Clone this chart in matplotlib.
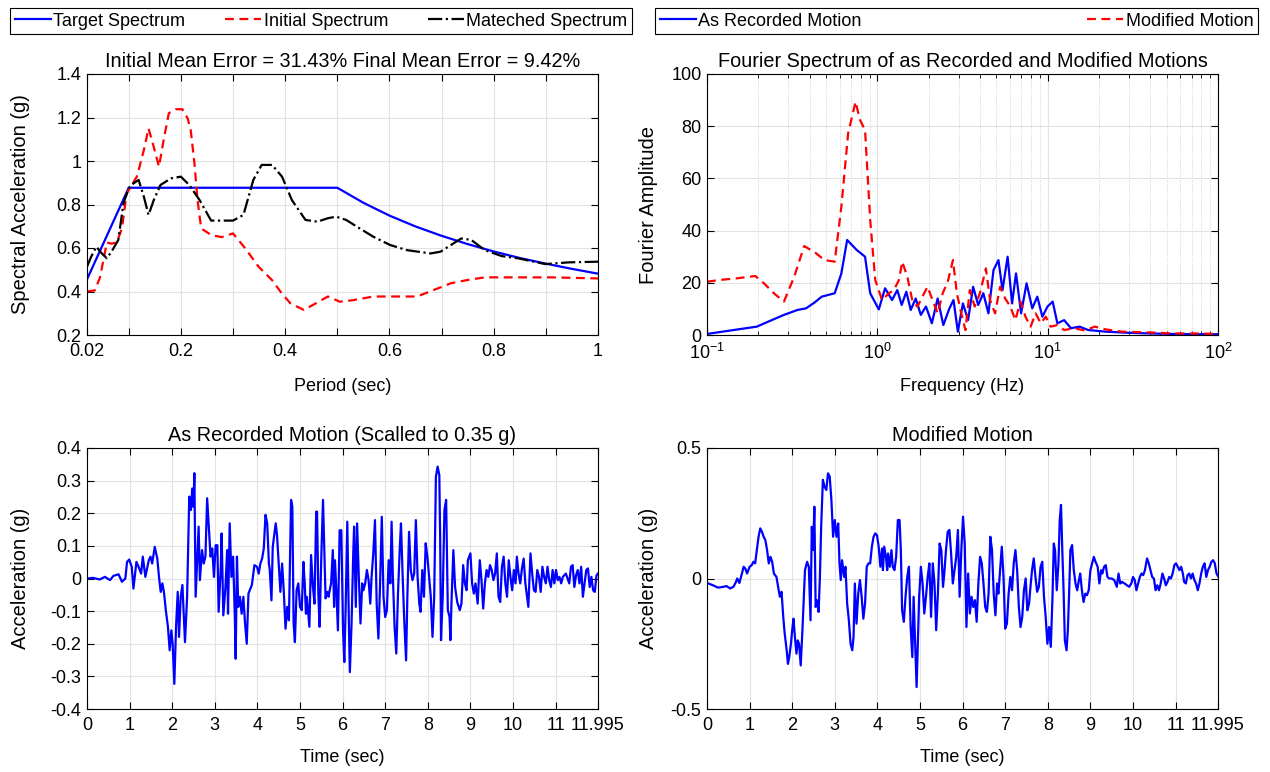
import matplotlib
matplotlib.use("Agg")
import matplotlib.pyplot as plt
import numpy as np
from matplotlib.ticker import LogLocator, NullFormatter

plt.rcParams['font.family'] = ['Liberation Sans', 'DejaVu Sans']
plt.rcParams['font.size'] = 13
plt.rcParams['mathtext.fontset'] = 'custom'
plt.rcParams['mathtext.rm'] = 'Liberation Sans'
plt.rcParams['axes.linewidth'] = 0.8

# ---- response spectra (period in sec, Sa in g) ----
target_period = [0.02, 0.10, 0.50, 0.55, 0.60, 0.65, 0.70, 0.75, 0.80, 0.85, 0.90, 0.95, 1.00]
target_sa = [0.456, 0.877, 0.877, 0.808, 0.749, 0.699, 0.656, 0.618, 0.584, 0.554, 0.528, 0.504, 0.482]

initial_period = [0.020, 0.035, 0.045, 0.058, 0.067, 0.077, 0.087, 0.096, 0.116, 0.129, 0.138,
                  0.148, 0.158, 0.168, 0.177, 0.190, 0.203, 0.213, 0.219, 0.226, 0.232, 0.239,
                  0.258, 0.278, 0.300, 0.323, 0.349, 0.375, 0.394, 0.410, 0.436, 0.459, 0.482,
                  0.505, 0.530, 0.569, 0.601, 0.653, 0.685, 0.718, 0.750, 0.783, 0.815, 0.848,
                  0.912, 1.000]
initial_sa = [0.400, 0.405, 0.465, 0.625, 0.620, 0.625, 0.690, 0.850, 0.930, 1.050, 1.150,
              1.065, 0.974, 1.110, 1.220, 1.238, 1.238, 1.196, 1.140, 0.990, 0.820, 0.690,
              0.660, 0.650, 0.667, 0.600, 0.514, 0.452, 0.390, 0.346, 0.315, 0.346, 0.377,
              0.353, 0.360, 0.377, 0.377, 0.377, 0.407, 0.438, 0.453, 0.465, 0.465, 0.465,
              0.465, 0.460]

matched_period = [0.020, 0.028, 0.038, 0.048, 0.058, 0.067, 0.080, 0.090, 0.100, 0.109, 0.119,
                  0.129, 0.138, 0.148, 0.161, 0.181, 0.200, 0.216, 0.236, 0.258, 0.278, 0.300,
                  0.320, 0.339, 0.355, 0.375, 0.394, 0.413, 0.439, 0.462, 0.482, 0.498, 0.517,
                  0.543, 0.569, 0.601, 0.634, 0.679, 0.698, 0.718, 0.738, 0.757, 0.783, 0.815,
                  0.848, 0.899, 0.944, 1.000]
matched_sa = [0.514, 0.560, 0.606, 0.576, 0.553, 0.583, 0.637, 0.806, 0.875, 0.897, 0.913,
              0.836, 0.752, 0.820, 0.890, 0.920, 0.928, 0.890, 0.820, 0.726, 0.726, 0.726,
              0.752, 0.913, 0.982, 0.982, 0.928, 0.820, 0.729, 0.721, 0.737, 0.744, 0.729,
              0.690, 0.652, 0.614, 0.590, 0.575, 0.583, 0.614, 0.644, 0.637, 0.590, 0.563,
              0.552, 0.526, 0.534, 0.537]

# ---- Fourier amplitude spectra (Hz) ----
freq_rec = [0.100, 0.143, 0.196, 0.236, 0.283, 0.340, 0.381, 0.427, 0.472, 0.562, 0.615, 0.665,
            0.756, 0.847, 0.908, 1.02, 1.11, 1.22, 1.31, 1.39, 1.48, 1.57, 1.68, 1.80, 1.93,
            2.09, 2.26, 2.44, 2.65, 2.80, 2.97, 3.18, 3.41, 3.65, 3.91, 4.19, 4.49, 4.81, 5.14,
            5.43, 5.82, 6.18, 6.52, 6.98, 7.52, 8.12, 8.69, 9.31, 9.98, 10.7, 11.4, 12.5, 13.7,
            15.4, 17.3, 21.7, 28.5, 39.3, 54.0, 74.3, 100.0]
amp_rec = [0.4, 1.9, 3.2, 5.5, 7.7, 9.6, 10.2, 12.4, 14.7, 16.0, 23.6, 36.4,
           32.6, 30.0, 16.0, 9.8, 17.9, 13.4, 17.2, 11.5, 16.6, 9.6, 14.0, 7.7, 10.9,
           4.5, 14.0, 3.8, 10.2, 13.4, 1.3, 12.1, 5.7, 18.5, 11.5, 16.0, 8.3, 24.9, 28.7,
           17.2, 30.0, 12.1, 23.6, 8.3, 19.8, 10.2, 14.7, 7.0, 10.9, 12.8, 4.5, 5.7, 2.6,
           3.2, 1.9, 1.3, 0.9, 0.6, 0.4, 0.3, 0.3]

freq_mod = [0.100, 0.119, 0.149, 0.192, 0.216, 0.247, 0.283, 0.325, 0.372, 0.437, 0.489, 0.562,
            0.615, 0.674, 0.745, 0.791, 0.847, 0.908, 0.972, 1.065, 1.17, 1.25, 1.34, 1.40,
            1.50, 1.61, 1.72, 1.84, 1.97, 2.11, 2.26, 2.42, 2.59, 2.78, 2.93, 3.11, 3.29, 3.49,
            3.73, 4.00, 4.34, 4.59, 4.91, 5.26, 5.63, 6.04, 6.46, 6.92, 7.41, 7.94, 8.50, 9.10,
            9.75, 10.4, 11.4, 12.5, 14.4, 16.5, 18.9, 21.7, 27.2, 34.2, 43.0, 54.0, 74.3, 100.0]
amp_mod = [20.4, 21.1, 21.7, 22.6, 19.8, 16.0, 12.8, 22.3, 34.1, 31.3, 28.7, 28.1,
           49.2, 77.3, 89.4, 82.4, 78.5, 44.1, 21.1, 13.4, 16.0, 17.2, 21.1, 28.1,
           22.3, 12.8, 10.9, 14.7, 18.5, 13.4, 8.3, 16.0, 20.4, 28.7, 16.0, 8.3, 1.9, 17.2,
           10.9, 16.0, 25.5, 13.4, 8.3, 18.5, 14.0, 10.9, 5.7, 12.8, 7.0, 3.2, 8.3, 4.5,
           7.0, 3.2, 3.8, 1.9, 2.6, 1.7, 3.2, 2.2, 1.3, 1.1, 0.9, 0.6, 0.6, 0.4]

# ---- acceleration time histories: (time sec, acc g) ----
recorded_motion = [
    (0.00, 0.000), (0.14, 0.002), (0.30, -0.003), (0.42, 0.005), (0.54, -0.005), (0.62, 0.008),
    (0.74, 0.013), (0.82, -0.010), (0.90, 0.000), (0.94, 0.051), (0.99, 0.058), (1.05, 0.036),
    (1.09, -0.031), (1.16, 0.051), (1.21, 0.036), (1.27, 0.015), (1.31, 0.067), (1.37, 0.005),
    (1.45, 0.056), (1.49, 0.067), (1.53, 0.046), (1.59, 0.097), (1.65, 0.061), (1.69, 0.005),
    (1.73, -0.041), (1.77, -0.015), (1.81, -0.046), (1.85, -0.097), (1.90, -0.148), (1.94, -0.220),
    (1.98, -0.159), (2.01, -0.200), (2.05, -0.323), (2.09, -0.148), (2.13, -0.041), (2.16, -0.179),
    (2.20, -0.056), (2.24, -0.020), (2.30, -0.195), (2.35, -0.056), (2.40, 0.251), (2.44, 0.210),
    (2.47, 0.276), (2.50, 0.220), (2.52, 0.323), (2.55, -0.056), (2.59, 0.067), (2.62, 0.159),
    (2.65, -0.005), (2.70, 0.087), (2.74, 0.046), (2.78, 0.067), (2.82, 0.246), (2.86, 0.159),
    (2.90, 0.067), (2.94, 0.092), (2.98, 0.005), (3.02, 0.102), (3.06, 0.102), (3.09, -0.102),
    (3.14, 0.036), (3.16, 0.138), (3.20, -0.113), (3.25, -0.026), (3.29, 0.087), (3.31, -0.108),
    (3.35, 0.169), (3.39, 0.005), (3.43, 0.067), (3.47, -0.118), (3.49, -0.246), (3.52, 0.067),
    (3.55, -0.087), (3.59, -0.056), (3.63, -0.108), (3.67, -0.056), (3.71, -0.138), (3.75, -0.200),
    (3.79, -0.046), (3.87, -0.020), (3.93, 0.041), (3.99, 0.036), (4.03, 0.015), (4.07, 0.046),
    (4.11, 0.061), (4.15, 0.092), (4.19, 0.195), (4.23, 0.169), (4.27, 0.046), (4.29, 0.026),
    (4.33, -0.067), (4.36, 0.097), (4.40, 0.138), (4.43, 0.169), (4.46, 0.133), (4.50, 0.046),
    (4.54, -0.041), (4.58, 0.046), (4.62, -0.041), (4.66, -0.154), (4.70, -0.087), (4.74, -0.128),
    (4.79, 0.241), (4.82, 0.220), (4.85, -0.138), (4.88, -0.195), (4.92, -0.036), (4.96, -0.015),
    (5.00, -0.087), (5.04, -0.097), (5.08, 0.051), (5.11, -0.015), (5.14, -0.108), (5.16, -0.056),
    (5.22, -0.148), (5.26, 0.072), (5.30, -0.020), (5.34, -0.077), (5.38, 0.205), (5.40, 0.205),
    (5.43, -0.046), (5.46, -0.148), (5.50, 0.067), (5.54, 0.241), (5.56, 0.138), (5.60, -0.061),
    (5.64, -0.041), (5.67, -0.056), (5.69, -0.041), (5.73, -0.015), (5.77, 0.087), (5.80, -0.087),
    (5.82, 0.056), (5.85, -0.026), (5.89, -0.159), (5.93, 0.148), (5.97, 0.148), (6.01, -0.159),
    (6.04, -0.256), (6.07, -0.097), (6.11, 0.174), (6.15, -0.159), (6.17, -0.287), (6.21, -0.138),
    (6.25, 0.077), (6.27, 0.159), (6.31, -0.087), (6.34, 0.169), (6.38, 0.005), (6.42, -0.138),
    (6.46, -0.015), (6.49, -0.036), (6.53, -0.015), (6.57, 0.026), (6.61, -0.005), (6.65, -0.077),
    (6.68, 0.005), (6.72, 0.077), (6.76, 0.179), (6.80, -0.077), (6.84, -0.184), (6.88, -0.015),
    (6.92, 0.189), (6.96, -0.056), (7.00, -0.118), (7.04, -0.097), (7.08, 0.056), (7.12, -0.015),
    (7.15, 0.174), (7.18, 0.005), (7.22, -0.148), (7.26, -0.230), (7.30, -0.046), (7.34, 0.087),
    (7.37, 0.169), (7.41, 0.005), (7.45, -0.138), (7.49, -0.251), (7.52, -0.056), (7.56, 0.143),
    (7.60, 0.026), (7.64, -0.005), (7.68, 0.015), (7.72, 0.179), (7.76, 0.005), (7.80, -0.077),
    (7.83, -0.102), (7.87, 0.026), (7.91, -0.056), (7.95, 0.108), (7.99, 0.067), (8.03, 0.005),
    (8.07, -0.056), (8.11, -0.179), (8.15, -0.056), (8.19, 0.312), (8.23, 0.343), (8.27, 0.317),
    (8.29, 0.128), (8.31, -0.189), (8.35, -0.056), (8.39, 0.210), (8.43, 0.241), (8.47, -0.097),
    (8.51, -0.118), (8.53, -0.189), (8.56, -0.056), (8.60, 0.087), (8.64, -0.026), (8.69, -0.072),
    (8.75, -0.097), (8.79, -0.077), (8.83, 0.041), (8.87, -0.015), (8.91, -0.036), (8.94, 0.056),
    (9.00, 0.077), (9.04, -0.015), (9.08, -0.046), (9.12, -0.015), (9.17, -0.077), (9.22, 0.056),
    (9.26, -0.005), (9.30, -0.092), (9.34, -0.015), (9.38, 0.026), (9.42, 0.005), (9.46, 0.041),
    (9.50, 0.026), (9.54, -0.005), (9.58, 0.015), (9.62, 0.077), (9.66, -0.056), (9.70, -0.072),
    (9.74, 0.036), (9.78, 0.067), (9.82, -0.015), (9.86, -0.056), (9.90, 0.056), (9.94, 0.005),
    (9.98, -0.036), (10.02, 0.026), (10.06, -0.015), (10.09, 0.067), (10.13, 0.015), (10.17, -0.015),
    (10.21, 0.031), (10.25, 0.061), (10.29, -0.015), (10.36, -0.087), (10.41, 0.077), (10.45, 0.015),
    (10.49, -0.036), (10.53, -0.041), (10.57, 0.026), (10.61, 0.005), (10.65, -0.041), (10.69, 0.036),
    (10.73, 0.005), (10.77, -0.015), (10.81, 0.036), (10.85, -0.005), (10.89, -0.026), (10.93, 0.026),
    (10.97, -0.015), (11.01, 0.026), (11.05, -0.005), (11.09, 0.005), (11.13, -0.015), (11.17, 0.005),
    (11.24, 0.015), (11.32, -0.015), (11.36, 0.036), (11.40, 0.041), (11.44, -0.026), (11.48, 0.010),
    (11.52, 0.026), (11.56, -0.015), (11.60, 0.036), (11.64, -0.056), (11.68, -0.015), (11.72, 0.026),
    (11.76, 0.031), (11.80, -0.026), (11.84, 0.005), (11.88, -0.036), (11.92, -0.041), (11.96, 0.010),
    (11.995, 0.015),
]

modified_motion = [
    (0.00, -0.017), (0.14, -0.026), (0.26, -0.035), (0.38, -0.032), (0.46, -0.029), (0.54, -0.038),
    (0.62, -0.032), (0.68, -0.013), (0.71, 0.000), (0.76, -0.017), (0.82, 0.019), (0.86, 0.045),
    (0.90, 0.038), (0.94, 0.019), (1.00, 0.045), (1.05, 0.051), (1.09, 0.064), (1.13, 0.058),
    (1.17, 0.109), (1.21, 0.160), (1.25, 0.192), (1.29, 0.179), (1.33, 0.160), (1.37, 0.147),
    (1.41, 0.109), (1.45, 0.058), (1.49, 0.083), (1.53, 0.064), (1.57, 0.019), (1.63, 0.006),
    (1.67, -0.032), (1.71, -0.070), (1.75, -0.051), (1.79, -0.147), (1.82, -0.205), (1.87, -0.275),
    (1.90, -0.327), (1.93, -0.301), (1.97, -0.250), (2.00, -0.198), (2.03, -0.154), (2.07, -0.237),
    (2.10, -0.288), (2.13, -0.237), (2.16, -0.250), (2.20, -0.333), (2.24, -0.198), (2.30, 0.032),
    (2.35, 0.064), (2.39, 0.045), (2.43, -0.160), (2.46, 0.198), (2.49, 0.109), (2.52, 0.275),
    (2.55, -0.109), (2.58, -0.083), (2.62, -0.128), (2.65, 0.006), (2.68, 0.198), (2.72, 0.378),
    (2.76, 0.352), (2.80, 0.339), (2.84, 0.403), (2.88, 0.391), (2.92, 0.301), (2.96, 0.160),
    (3.00, 0.224), (3.04, 0.160), (3.08, 0.211), (3.11, 0.058), (3.14, -0.006), (3.17, 0.070),
    (3.22, 0.006), (3.25, 0.045), (3.29, -0.096), (3.33, -0.160), (3.37, -0.250), (3.41, -0.275),
    (3.44, -0.224), (3.47, -0.019), (3.51, -0.173), (3.55, -0.058), (3.59, -0.006), (3.63, -0.070),
    (3.67, -0.154), (3.71, -0.096), (3.75, 0.045), (3.79, 0.058), (3.83, 0.058), (3.87, 0.122),
    (3.91, 0.160), (3.95, 0.173), (3.99, 0.166), (4.03, 0.122), (4.07, 0.045), (4.11, 0.115),
    (4.13, 0.032), (4.16, 0.122), (4.20, 0.083), (4.23, 0.032), (4.25, 0.096), (4.29, 0.045),
    (4.33, 0.109), (4.36, 0.045), (4.40, 0.032), (4.44, 0.083), (4.48, 0.224), (4.52, 0.224),
    (4.55, 0.109), (4.58, -0.122), (4.62, -0.166), (4.66, -0.070), (4.70, 0.006), (4.74, 0.045),
    (4.78, -0.186), (4.82, -0.301), (4.85, -0.070), (4.88, -0.224), (4.92, -0.416), (4.95, -0.250),
    (4.98, -0.070), (5.02, 0.045), (5.06, -0.019), (5.10, -0.134), (5.14, -0.070), (5.18, 0.006),
    (5.22, 0.058), (5.26, -0.147), (5.30, 0.058), (5.34, -0.019), (5.38, -0.198), (5.42, -0.058),
    (5.46, 0.134), (5.50, 0.109), (5.54, -0.032), (5.57, 0.019), (5.61, 0.109), (5.65, 0.179),
    (5.69, 0.186), (5.73, 0.096), (5.77, -0.019), (5.81, 0.032), (5.85, 0.083), (5.89, 0.186),
    (5.93, -0.070), (5.97, 0.109), (6.01, 0.237), (6.05, 0.134), (6.09, -0.186), (6.13, 0.019),
    (6.17, -0.134), (6.21, -0.070), (6.25, -0.109), (6.29, -0.083), (6.33, -0.166), (6.37, -0.019),
    (6.41, 0.083), (6.45, 0.058), (6.49, -0.019), (6.53, -0.109), (6.57, -0.128), (6.61, -0.058),
    (6.65, 0.160), (6.69, 0.109), (6.73, -0.058), (6.77, -0.141), (6.81, -0.019), (6.84, -0.058),
    (6.88, 0.032), (6.92, 0.122), (6.96, 0.006), (7.00, -0.192), (7.04, -0.173), (7.08, -0.058),
    (7.12, 0.006), (7.16, -0.045), (7.20, 0.058), (7.24, 0.109), (7.28, 0.032), (7.32, -0.109),
    (7.36, -0.186), (7.40, -0.147), (7.44, -0.045), (7.48, 0.000), (7.52, -0.122), (7.56, -0.096),
    (7.60, -0.019), (7.63, 0.032), (7.67, 0.077), (7.71, 0.006), (7.75, -0.051), (7.79, -0.032),
    (7.83, 0.045), (7.87, 0.064), (7.91, -0.070), (7.95, -0.147), (7.99, -0.250), (8.03, -0.186),
    (8.07, -0.262), (8.11, -0.070), (8.14, 0.134), (8.17, 0.109), (8.21, -0.045), (8.25, 0.058),
    (8.28, 0.224), (8.31, 0.282), (8.34, 0.109), (8.37, -0.045), (8.40, -0.237), (8.44, -0.275),
    (8.47, -0.198), (8.50, -0.058), (8.53, 0.109), (8.57, 0.128), (8.61, 0.032), (8.65, -0.019),
    (8.69, -0.045), (8.73, -0.006), (8.76, 0.019), (8.80, -0.045), (8.84, -0.090), (8.88, -0.058),
    (8.92, -0.064), (8.96, -0.045), (9.00, 0.032), (9.04, 0.058), (9.08, 0.083), (9.12, 0.064),
    (9.17, 0.045), (9.21, -0.019), (9.25, 0.032), (9.28, 0.019), (9.32, 0.045), (9.36, 0.051),
    (9.40, 0.006), (9.44, 0.000), (9.50, 0.000), (9.56, -0.006), (9.62, -0.032), (9.66, 0.019),
    (9.70, -0.019), (9.74, -0.013), (9.80, -0.019), (9.86, -0.026), (9.91, -0.032), (9.96, -0.019),
    (10.00, 0.006), (10.04, -0.006), (10.08, -0.045), (10.12, -0.019), (10.16, 0.006), (10.20, 0.019),
    (10.24, 0.013), (10.28, 0.032), (10.33, 0.077), (10.37, 0.058), (10.41, 0.032), (10.45, 0.006),
    (10.49, 0.000), (10.53, -0.045), (10.57, -0.026), (10.61, -0.045), (10.65, -0.019), (10.69, 0.019),
    (10.73, 0.000), (10.77, -0.026), (10.81, -0.013), (10.85, 0.006), (10.89, 0.000), (10.93, 0.019),
    (10.97, 0.051), (11.01, 0.058), (11.05, 0.045), (11.09, 0.032), (11.13, 0.045), (11.17, 0.019),
    (11.20, -0.013), (11.24, -0.019), (11.28, 0.013), (11.32, 0.019), (11.36, 0.000), (11.40, 0.019),
    (11.44, -0.006), (11.48, -0.019), (11.52, -0.045), (11.56, -0.019), (11.60, 0.019), (11.64, 0.045),
    (11.68, 0.058), (11.72, 0.006), (11.76, 0.032), (11.80, 0.045), (11.84, 0.064), (11.88, 0.070),
    (11.92, 0.058), (11.96, 0.019), (11.995, 0.009),
]

t_rec, acc_rec = np.array(recorded_motion).T
t_mod, acc_mod = np.array(modified_motion).T

GRID = '#e3e3e3'
TITLE_SIZE = 14.3
YLABEL_SIZE = 14.5


def style_axes(ax):
    ax.tick_params(direction='in', top=True, right=True, length=5, width=0.8, pad=4)
    ax.tick_params(axis='x', pad=6)
    ax.tick_params(which='minor', direction='in', top=True, right=True, length=3, width=0.6)
    ax.set_axisbelow(True)


fig = plt.figure(figsize=(12.7, 7.72), dpi=100)
W, H = 511 / 1270, 261 / 772
ax1 = fig.add_axes([87 / 1270, 1 - 335 / 772, W, H])
ax2 = fig.add_axes([707 / 1270, 1 - 335 / 772, W, H])
ax3 = fig.add_axes([87 / 1270, 1 - 709 / 772, W, H])
ax4 = fig.add_axes([707 / 1270, 1 - 709 / 772, W, H])

# response spectra
h1, = ax1.plot(target_period, target_sa, color='blue', lw=1.6, label='Target Spectrum')
h2, = ax1.plot(initial_period, initial_sa, color='red', lw=1.6, ls='--', dashes=(4, 2.5),
               label='Initial Spectrum')
h3, = ax1.plot(matched_period, matched_sa, color='black', lw=1.6, ls='-.',
               label='Mateched Spectrum')
ax1.set_xlim(0.02, 1)
ax1.set_ylim(0.2, 1.4)
xt = [0.02] + [round(0.1 * i, 1) for i in range(1, 11)]
ax1.set_xticks(xt)
ax1.set_xticklabels(['0.02', '', '0.2', '', '0.4', '', '0.6', '', '0.8', '', '1'])
ax1.set_yticks([0.2, 0.4, 0.6, 0.8, 1.0, 1.2, 1.4])
ax1.set_yticklabels(['0.2', '0.4', '0.6', '0.8', '1', '1.2', '1.4'])
ax1.grid(True, color=GRID, lw=0.8)
ax1.set_title('Initial Mean Error = 31.43% Final Mean Error = 9.42%', fontsize=TITLE_SIZE, pad=5)
ax1.set_xlabel('Period (sec)')
ax1.set_ylabel('Spectral Acceleration (g)', fontsize=YLABEL_SIZE)
style_axes(ax1)

# Fourier spectra
g1, = ax2.plot(freq_rec, amp_rec, color='blue', lw=1.6, label='As Recorded Motion')
g2, = ax2.plot(freq_mod, amp_mod, color='red', lw=1.6, ls='--', dashes=(4, 2.5),
               label='Modified Motion')
ax2.set_xscale('log')
ax2.set_xlim(0.1, 100)
ax2.set_ylim(0, 100)
ax2.set_yticks([0, 20, 40, 60, 80, 100])
ax2.xaxis.set_minor_locator(LogLocator(base=10, subs=np.arange(2, 10)))
ax2.xaxis.set_minor_formatter(NullFormatter())
ax2.grid(True, which='major', color=GRID, lw=0.8)
ax2.grid(True, which='minor', axis='x', color='#c8c8c8', lw=0.6, ls=':')
ax2.set_title('Fourier Spectrum of as Recorded and Modified Motions', fontsize=TITLE_SIZE, pad=5)
ax2.set_xlabel('Frequency (Hz)')
ax2.set_ylabel('Fourier Amplitude', fontsize=YLABEL_SIZE)
style_axes(ax2)

# time histories
time_ticks = list(range(12)) + [11.995]
time_labels = [str(i) for i in range(12)] + ['11.995']

ax3.plot(t_rec, acc_rec, color='blue', lw=1.6)
ax3.set_xlim(0, 11.995)
ax3.set_ylim(-0.4, 0.4)
ax3.set_xticks(time_ticks)
ax3.set_xticklabels(time_labels)
ax3.set_yticks(np.round(np.arange(-0.4, 0.41, 0.1), 1))
ax3.set_yticklabels(['-0.4', '-0.3', '-0.2', '-0.1', '0', '0.1', '0.2', '0.3', '0.4'])
ax3.grid(True, color=GRID, lw=0.8)
ax3.set_title('As Recorded Motion (Scalled to 0.35 g)', fontsize=TITLE_SIZE, pad=5)
ax3.set_xlabel('Time (sec)')
ax3.set_ylabel('Acceleration (g)', fontsize=YLABEL_SIZE)
style_axes(ax3)

ax4.plot(t_mod, acc_mod, color='blue', lw=1.6)
ax4.set_xlim(0, 11.995)
ax4.set_ylim(-0.5, 0.5)
ax4.set_xticks(time_ticks)
ax4.set_xticklabels(time_labels)
ax4.set_yticks([-0.5, 0, 0.5])
ax4.set_yticklabels(['-0.5', '0', '0.5'])
ax4.grid(True, color=GRID, lw=0.8)
ax4.set_title('Modified Motion', fontsize=TITLE_SIZE, pad=5)
ax4.set_xlabel('Time (sec)')
ax4.set_ylabel('Acceleration (g)', fontsize=YLABEL_SIZE)
style_axes(ax4)

# axis label placement
for ax in (ax1, ax2):
    ax.xaxis.set_label_coords(0.5, -0.165)
for ax in (ax3, ax4):
    ax.xaxis.set_label_coords(0.5, -0.155)
ax1.yaxis.set_label_coords(-0.112, 0.5)
ax2.yaxis.set_label_coords(-0.095, 0.5)
ax3.yaxis.set_label_coords(-0.112, 0.5)
ax4.yaxis.set_label_coords(-0.095, 0.5)

# legends across the top
leg_kw = dict(loc='upper left', mode='expand', borderaxespad=0, fancybox=False,
              edgecolor='black', framealpha=1, fontsize=13, handlelength=2.0,
              handletextpad=0.15, borderpad=0.25, bbox_transform=fig.transFigure)
leg1 = fig.legend([h1, h2, h3], [h.get_label() for h in (h1, h2, h3)], ncol=3,
                  bbox_to_anchor=(10 / 1270, 1 - 8 / 772, 622 / 1270, 0.0), **leg_kw)
leg2 = fig.legend([g1, g2], [g.get_label() for g in (g1, g2)], ncol=2,
                  bbox_to_anchor=(655 / 1270, 1 - 8 / 772, 603 / 1270, 0.0), **leg_kw)
for leg in (leg1, leg2):
    leg.get_frame().set_linewidth(0.8)

fig.savefig('out.png', dpi=100)
